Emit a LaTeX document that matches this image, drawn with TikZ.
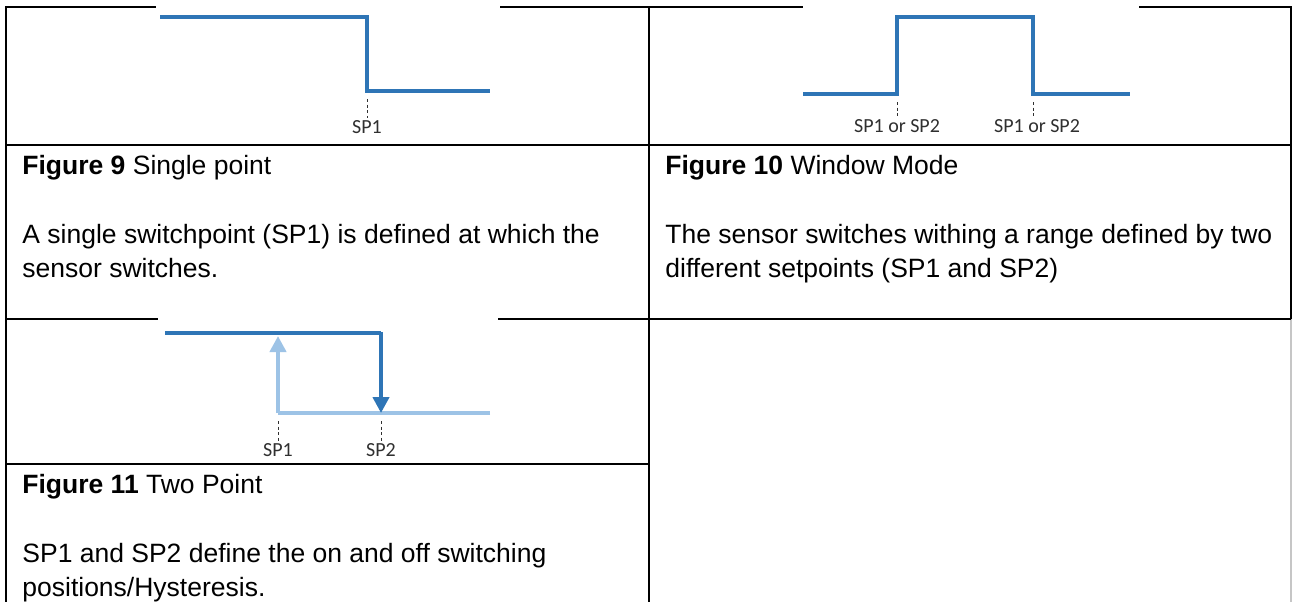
\documentclass[tikz,border=0pt]{standalone}
\usepackage{fontspec}
\setmainfont{Liberation Sans}
\newfontfamily\labelfont{Carlito}
\usetikzlibrary{arrows.meta,positioning}
\definecolor{stepblue}{HTML}{2E75B6}
\definecolor{lightstep}{HTML}{9DC3E6}
\definecolor{guide}{HTML}{303030}

\begin{document}
\begin{tikzpicture}[x=0.5pt,y=-0.5pt,>=Latex,
  rule/.style={black,line width=1pt},
  curve/.style={stepblue,line width=2pt},
  lowcurve/.style={lightstep,line width=2pt},
  guideline/.style={guide,line width=0.4pt,dash pattern=on 1.6pt off 1.2pt},
  splabel/.style={font=\labelfont\fontsize{10}{12}\selectfont,text=guide,inner sep=1pt},
  caption/.style={anchor=base west,inner sep=0pt,align=left,
    font=\fontsize{13.25}{17}\selectfont}]
\useasboundingbox (0,0) rectangle (1293,602);
% table rules
\draw[rule] (6,6) -- (6,602);
\draw[rule] (649,6) -- (649,602);
\draw[rule] (1291,6) -- (1291,319);
\draw[gray!45,line width=0.8pt] (1291,319) -- (1291,602);
\draw[rule] (6,7) -- (1291,7);
\draw[rule] (6,145) -- (1291,145);
\draw[rule] (6,319) -- (1291,319);
\draw[rule] (6,464) -- (649,464);
% picture backgrounds over the rules
\fill[white] (156,3) rectangle (500,140);
\fill[white] (803,3) rectangle (1139,140);
\fill[white] (158,316) rectangle (498,460);

% Figure 9: single point
\coordinate (a1) at (367,91);
\draw[curve] (160,17) -- (367,17) -- (a1) -- (490,91);
\node[splabel] (sp1a) at (367,127) {SP1};
\draw[guideline] ([yshift=-4]a1) -- (sp1a.north);

% Figure 10: window mode
\coordinate (w1) at (897,94);
\coordinate (w2) at (1033,94);
\draw[curve] (803,94) -- (w1) -- (897,17) -- (1033,17) -- (w2) -- (1130,94);
\node[splabel] (spw1) at (897,126) {SP1 or SP2};
\node[splabel] (spw2) at (1037,126) {SP1 or SP2};
\draw[guideline] ([yshift=-4]w1) -- (spw1.north -| w1);
\draw[guideline] ([yshift=-4]w2) -- (spw2.north -| w2);

% Figure 11: two point
\coordinate (t1) at (278,413);
\coordinate (t2) at (381,413);
\draw[lowcurve] (490,413) -- (t1);
\draw[lowcurve,-{Triangle[length=8pt,width=8pt]}] (t1) -- (278,336);
\draw[curve] (165,333) -- (381,333);
\draw[curve,-{Triangle[length=8pt,width=8pt]}] (381,332) -- (t2);
\node[splabel] (sp1b) at (278,450) {SP1};
\node[splabel] (sp2b) at (381,450) {SP2};
\draw[guideline] ([yshift=-4]t1) -- (sp1b.north);
\draw[guideline] ([yshift=-4]t2) -- (sp2b.north);

% captions (base = last line)
\node[caption] (cap9) at (22,174) {\textbf{Figure 9} Single point};
\node[caption] (txt9) at (22,277) {A single switchpoint (SP1) is defined at which the\\sensor switches.};
\node[caption] (cap10) at (665,174) {\textbf{Figure 10} Window Mode};
\node[caption] (txt10) at (665,277) {The sensor switches withing a range defined by two\\different setpoints (SP1 and SP2)};
\node[caption] (cap11) at (22,493) {\textbf{Figure 11} Two Point};
\node[caption] (txt11) at (22,596) {SP1 and SP2 define the on and off switching\\positions/Hysteresis.};
\end{tikzpicture}
\end{document}
